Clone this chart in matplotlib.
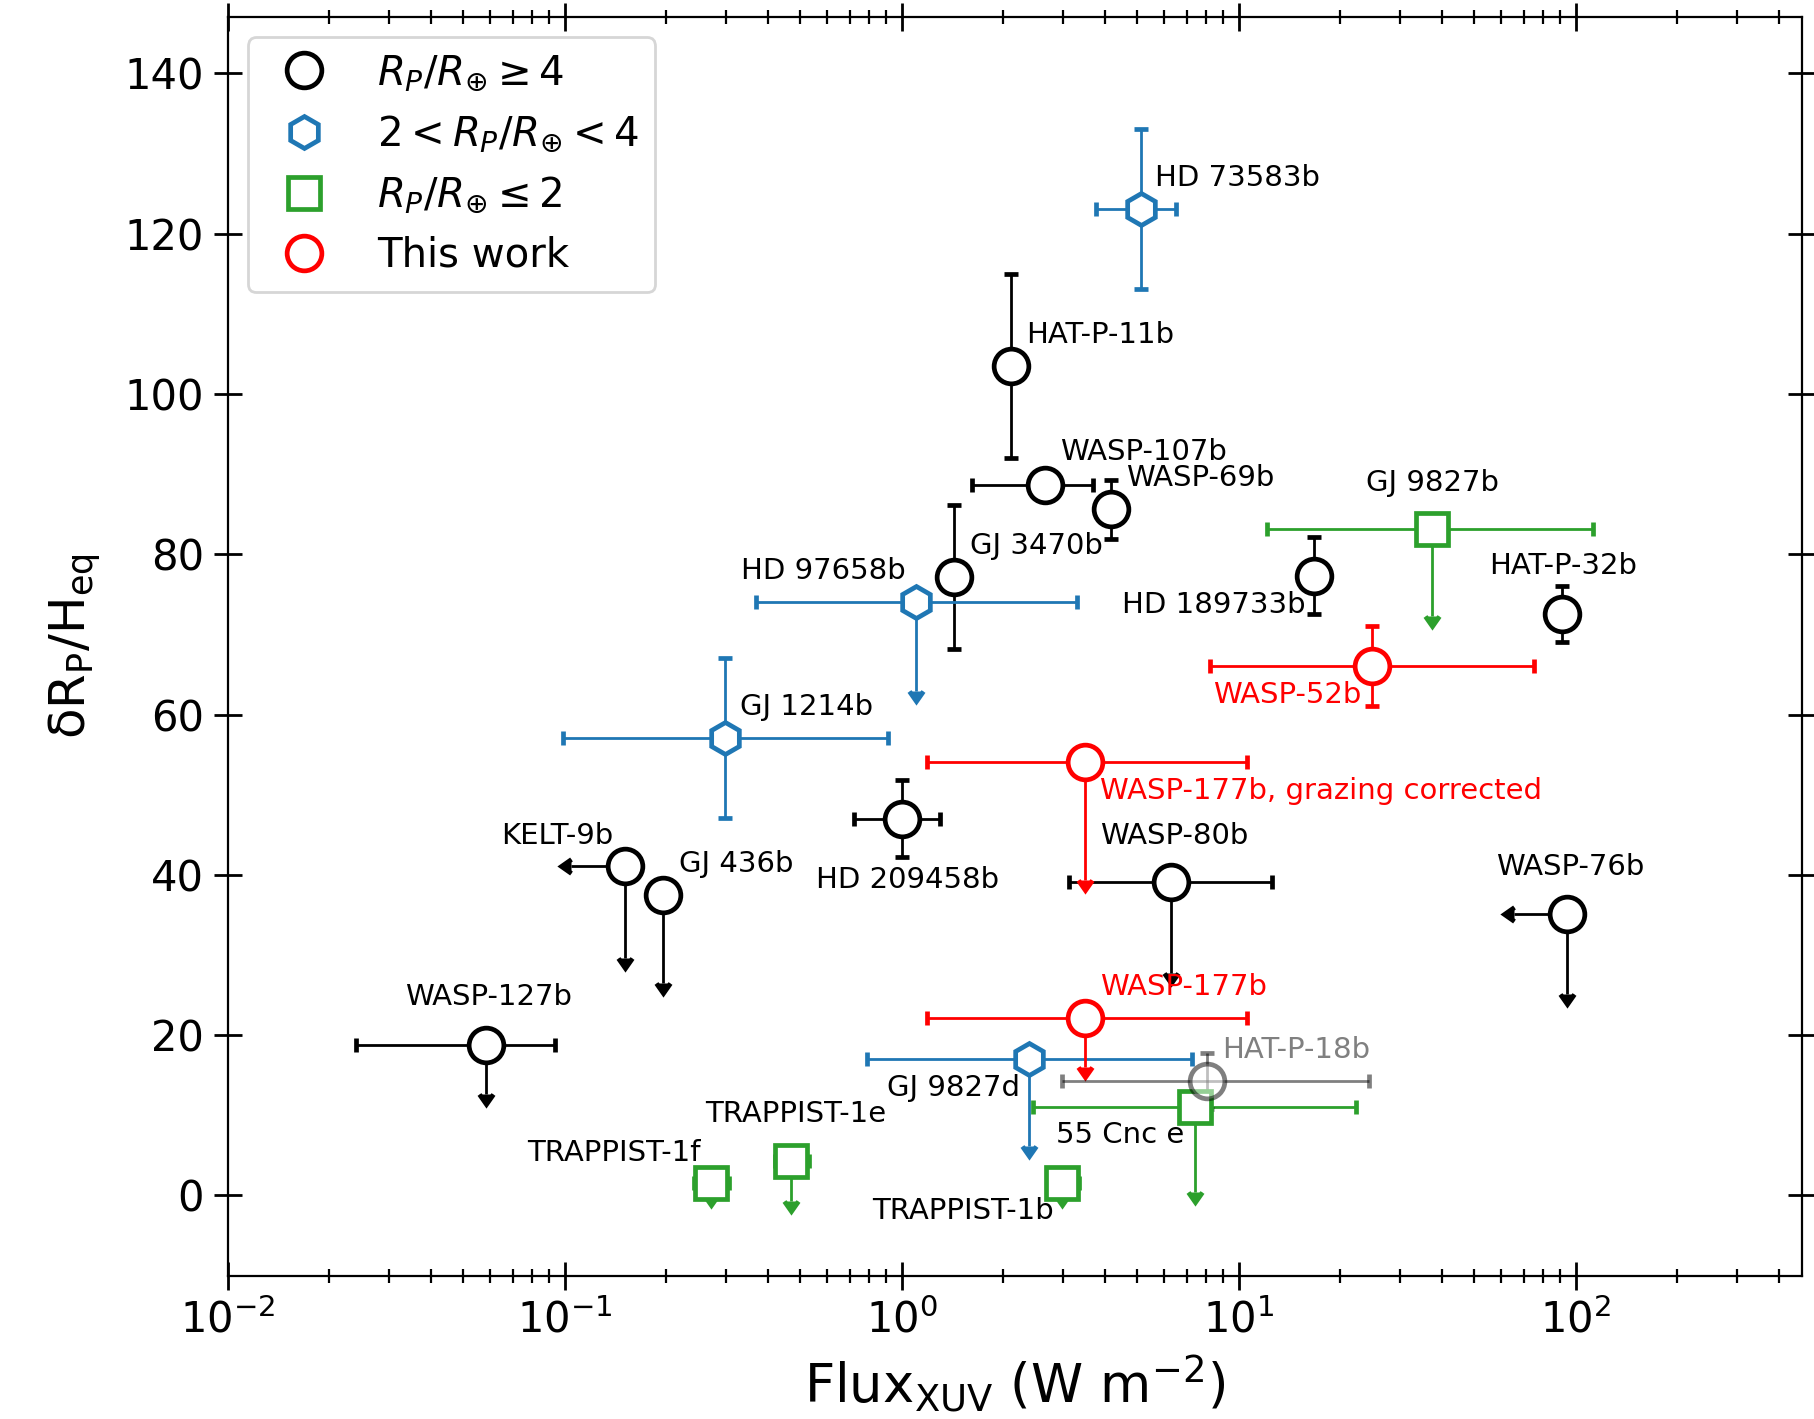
import numpy as np
import matplotlib.pyplot as plt
from matplotlib.lines import Line2D

# planet data
names = ["HAT-P-11b", "WASP-107b", "WASP-69b", "GJ 3470b", "HD 189733b", "HAT-P-32b",
         "HD 209458b", "KELT-9b", "GJ 436b", "WASP-80b", "WASP-76b", "WASP-127b",
         "HD 73583b", "HD 97658b", "GJ 1214b", "GJ 9827d",
         "GJ 9827b", "55 Cnc e", "TRAPPIST-1f", "TRAPPIST-1e", "TRAPPIST-1b",
         "WASP-52b", "WASP-177b, grazing corrected", "WASP-177b",
         "HAT-P-18b"]
group = ["big"] * 12 + ["mid"] * 4 + ["small"] * 5 + ["this"] * 3 + ["grey"]

flux = [2.11, 2.65, 4.17, 1.43, 16.7, 91.0,
        1.0, 0.151, 0.195, 6.28, 94.0, 0.0583,
        5.12, 1.10, 0.299, 2.39,
        37.5, 7.41, 0.272, 0.47, 2.99,
        24.9, 3.50, 3.50,
        8.04]
flux_lo = [0, 1.04, 0, 0, 0, 8.0,
           0.28, 0.047, 0, 3.15, 28.7, 0.0343,
           1.34, 0.73, 0.20, 1.60,
           25.4, 4.96, 0.03, 0.05, 0.30,
           16.7, 2.31, 2.31,
           5.05]
flux_hi = [0, 1.05, 0, 0, 0, 9.0,
           0.30, 0, 0, 6.3, 0, 0.0354,
           1.37, 2.21, 0.61, 4.85,
           75.2, 14.9, 0.034, 0.06, 0.36,
           50.3, 7.1, 7.1,
           16.3]
dr = [103.5, 88.7, 85.6, 77.2, 77.3, 72.6,
      47.0, 41.1, 37.5, 39.1, 35.1, 18.8,
      123.1, 74.0, 57.1, 17.0,
      83.1, 11.0, 1.6, 4.3, 1.6,
      66.1, 54.1, 22.1,
      14.3]
dr_lo = [11.5, 0, 3.7, 9.0, 4.8, 3.5,
         4.8, 11.5, 11.0, 11.3, 10.0, 6.1,
         10.0, 11.0, 10.0, 10.8,
         10.8, 10.6, 1.5, 5.0, 1.5,
         5.0, 14.7, 6.1,
         3.5]
dr_hi = [11.5, 0, 3.7, 9.0, 4.8, 3.5,
         4.8, 0, 0, 0, 0, 0,
         10.0, 0, 10.0, 0,
         0, 0, 0, 0, 0,
         5.0, 0, 0,
         3.5]
upper_y = [False, False, False, False, False, False,
           False, True, True, True, True, True,
           False, True, False, True,
           True, True, True, True, True,
           False, True, True,
           False]
upper_x = [False] * 7 + [True, False, False, True, False] + [False] * 13

# label anchor (left edge, vertical centre) in data coords
label_x = [2.34, 2.94, 4.61, 1.59, 4.51, 55.3,
           0.555, 0.0646, 0.218, 3.88, 58.0, 0.0335,
           5.62, 0.334, 0.332, 0.906,
           23.9, 2.87, 0.0775, 0.260, 0.817,
           8.36, 3.88, 3.88,
           8.90]
label_y = [107.4, 92.8, 89.5, 81.0, 73.7, 78.5,
           39.4, 44.9, 41.4, 44.9, 41.0, 24.7,
           127.0, 77.9, 61.0, 13.4,
           88.9, 7.5, 5.3, 10.1, -2.0,
           62.5, 50.5, 26.0,
           18.2]

styles = {
    "big": dict(marker="o", color="k", ms=12.5),
    "mid": dict(marker="h", color="#1f77b4", ms=11.5),
    "small": dict(marker="s", color="#2ca02c", ms=11.5),
    "this": dict(marker="o", color="red", ms=12.5),
    "grey": dict(marker="o", color="k", ms=12.5),
}

plt.rcParams['mathtext.fontset'] = 'dejavusans'

fig = plt.figure(figsize=(9.07, 7.095), dpi=200)
ax = fig.add_axes([0.1256, 0.1011, 0.868, 0.8867])

for i, name in enumerate(names):
    st = styles[group[i]]
    alpha = 0.5 if group[i] == "grey" else 1.0
    xerr = None
    if flux_lo[i] > 0 or flux_hi[i] > 0:
        xerr = [[flux_lo[i]], [flux_hi[i]]]
    yerr = None
    if dr_lo[i] > 0 or dr_hi[i] > 0:
        yerr = [[dr_lo[i]], [dr_hi[i]]]
    ax.errorbar([flux[i]], [dr[i]], xerr=xerr, yerr=yerr,
                uplims=upper_y[i], xuplims=upper_x[i],
                marker=st["marker"], ms=st["ms"], mfc="white", mec=st["color"],
                mew=1.7, color=st["color"], ecolor=st["color"], elinewidth=1.0,
                capsize=2.5, capthick=2.0, ls="none", alpha=alpha, zorder=3)
    # only "this work" and the greyed point get coloured labels
    tcol = "k"
    if group[i] == "this":
        tcol = "red"
    elif group[i] == "grey":
        tcol = "grey"
    ax.text(label_x[i], label_y[i], name, color=tcol, fontsize=10.5,
            ha="left", va="center", zorder=4)

ax.set_xscale("log")
ax.set_xlim(1e-2, 470)
ax.set_ylim(-10, 147)
ax.set_yticks(np.arange(0, 141, 20))
ax.tick_params(axis="both", which="major", direction="inout", length=10, width=1.0,
               labelsize=15, top=True, right=True)
ax.tick_params(axis="x", which="minor", direction="inout", length=5, width=0.8, top=True)
ax.set_xlabel(r"Flux$_\mathrm{XUV}$ (W m$^{-2}$)", fontsize=19, labelpad=4)
ax.set_ylabel(r"$\mathrm{\delta R_P / H_{eq}}$", fontsize=18, labelpad=8)

handles = [
    Line2D([], [], marker="o", ls="", mfc="white", mec="k", ms=12.5, mew=1.7),
    Line2D([], [], marker="h", ls="", mfc="white", mec="#1f77b4", ms=11.5, mew=1.7),
    Line2D([], [], marker="s", ls="", mfc="white", mec="#2ca02c", ms=11.5, mew=1.7),
    Line2D([], [], marker="o", ls="", mfc="white", mec="red", ms=12.5, mew=1.7),
]
labels = [r"$R_P/R_{\oplus} \geq 4$", r"$2 < R_P/R_{\oplus} < 4$",
          r"$R_P/R_{\oplus} \leq 2$", "This work"]
ax.legend(handles, labels, loc="upper left", fontsize=14.5, labelspacing=0.5,
          handletextpad=0.8, borderpad=0.4, bbox_to_anchor=(0.0, 1.0))

fig.savefig("out.png", dpi=200)
